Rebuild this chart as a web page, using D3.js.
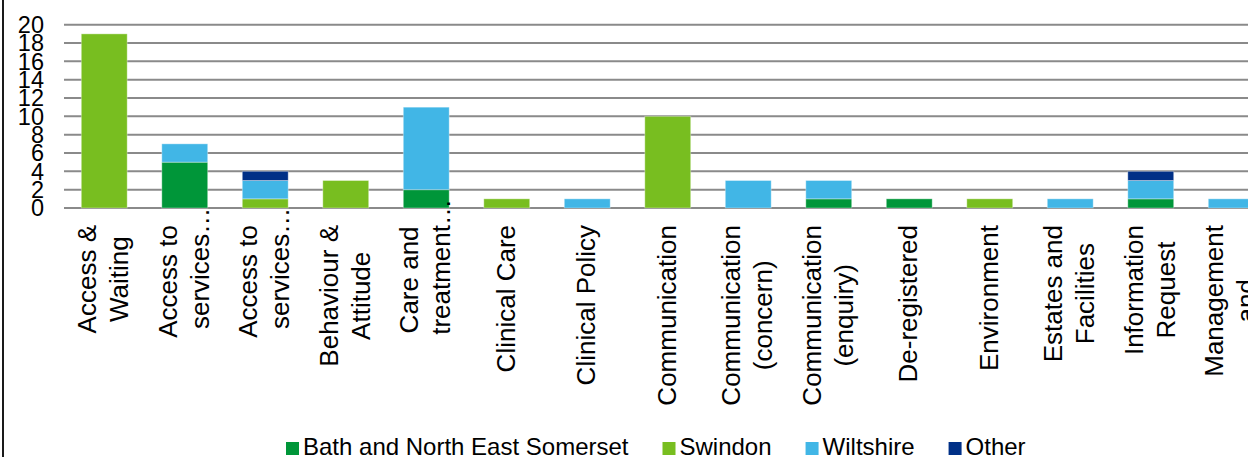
<!DOCTYPE html>
<html>
<head>
<meta charset="utf-8">
<script src="https://cdn.jsdelivr.net/npm/d3@7"></script>
<style>
  body { margin: 0; background: #fff; }
  text { font-family: "Liberation Sans", Arial, sans-serif; fill: #000; }
</style>
</head>
<body>
<script>
// category labels, one entry per line ("…" marks a truncated line)
var categories = [
  ["Access &", "Waiting"],
  ["Access to", "services…"],
  ["Access to", "services…"],
  ["Behaviour &", "Attitude"],
  ["Care and", "treatment…"],
  ["Clinical Care"],
  ["Clinical Policy"],
  ["Communication"],
  ["Communication", "(concern)"],
  ["Communication", "(enquiry)"],
  ["De-registered"],
  ["Environment"],
  ["Estates and", "Facilities"],
  ["Information", "Request"],
  ["Management", "and"]
];
var bath      = [0, 5, 0, 0, 2, 0, 0, 0, 0, 1, 1, 0, 0, 1, 0];
var swindon   = [19, 0, 1, 3, 0, 1, 0, 10, 0, 0, 0, 1, 0, 0, 0];
var wiltshire = [0, 2, 2, 0, 9, 0, 1, 0, 3, 2, 0, 0, 1, 2, 1];
var other     = [0, 0, 1, 0, 0, 0, 0, 0, 0, 0, 0, 0, 0, 1, 0];
var yTicks = [0, 2, 4, 6, 8, 10, 12, 14, 16, 18, 20];

var seriesNames = ["Bath and North East Somerset", "Swindon", "Wiltshire", "Other"];
var seriesKeys = ["bath", "swindon", "wiltshire", "other"];
var colors = ["#009639", "#78BE20", "#41B6E6", "#003087"];

var W = 1248, H = 457;
var plotLeft = 64, plotTop = 24.7, plotBottom = 208;
var step = 80.5;

var rows = categories.map(function (c, i) {
  return { idx: i, bath: bath[i], swindon: swindon[i], wiltshire: wiltshire[i], other: other[i] };
});

var svg = d3.select("body").append("svg")
  .attr("width", W)
  .attr("height", H);

// frame edge on the left
svg.append("line")
  .attr("x1", 3).attr("x2", 3)
  .attr("y1", 0).attr("y2", H)
  .attr("stroke", "#1a1a1a")
  .attr("stroke-width", 2);

var x = d3.scaleBand()
  .domain(d3.range(categories.length))
  .range([plotLeft, plotLeft + step * categories.length])
  .paddingInner(0.43)
  .paddingOuter(0.215);

var y = d3.scaleLinear().domain([0, 20]).range([plotBottom, plotTop]);

// gridlines
svg.append("g")
  .selectAll("line")
  .data(yTicks)
  .enter()
  .append("line")
  .attr("x1", plotLeft)
  .attr("x2", W)
  .attr("y1", function (d) { return y(d); })
  .attr("y2", function (d) { return y(d); })
  .attr("stroke", "#8a8a8a")
  .attr("stroke-width", 2);

// tick labels
svg.append("g")
  .selectAll("text")
  .data(yTicks)
  .enter()
  .append("text")
  .attr("x", 44)
  .attr("y", function (d) { return y(d); })
  .attr("dy", "0.35em")
  .attr("text-anchor", "end")
  .style("font-size", "23.5px")
  .text(function (d) { return d; });

// stacked bars
var stacked = d3.stack().keys(seriesKeys)(rows);

svg.append("g")
  .selectAll("g")
  .data(stacked)
  .enter()
  .append("g")
  .attr("fill", function (d, i) { return colors[i]; })
  .selectAll("rect")
  .data(function (d) { return d.filter(function (p) { return p[1] - p[0] > 0; }); })
  .enter()
  .append("rect")
  .attr("x", function (d) { return x(d.data.idx); })
  .attr("width", x.bandwidth())
  .attr("y", function (d) { return y(d[1]); })
  .attr("height", function (d) { return y(d[0]) - y(d[1]); })
  .attr("stroke", "rgba(255,255,255,0.35)")
  .attr("stroke-width", 1);

// category labels, rotated, lines centred on each other, block top at y=225
var labelTop = 225, fs = 26, lineGap = 32;
var labels = svg.append("g");
categories.forEach(function (lines, i) {
  var cx = x(i) + x.bandwidth() / 2;
  var g = labels.append("g");
  var n = lines.length;
  var texts = lines.map(function (l, j) {
    var hasEll = l.slice(-1) === "…";
    var t = g.append("text")
      .attr("text-anchor", "middle")
      .attr("x", 0)
      .attr("y", 8 - (n - 1) * lineGap / 2 + j * lineGap)
      .style("font-size", fs + "px")
      .text(hasEll ? l.slice(0, -1) : l);
    return { t: t, ell: hasEll, len: t.node().getComputedTextLength(), y: +t.attr("y") };
  });
  var maxLen = d3.max(texts, function (d) { return d.len; });
  g.attr("transform", "translate(" + cx + "," + (labelTop + maxLen / 2) + ") rotate(-90)");
  texts.forEach(function (d) {
    if (d.ell) {
      g.append("text")
        .attr("x", d.len / 2)
        .attr("y", d.y)
        .attr("text-anchor", "start")
        .style("font-size", fs + "px")
        .text("…");
    }
  });
});

// legend
var legend = svg.append("g");
var lx = 286;
seriesNames.forEach(function (name, i) {
  legend.append("rect")
    .attr("x", lx)
    .attr("y", 442)
    .attr("width", 13)
    .attr("height", 13)
    .attr("fill", colors[i]);
  var t = legend.append("text")
    .attr("x", lx + 17)
    .attr("y", 455)
    .style("font-size", "24px")
    .text(name);
  lx += 17 + t.node().getComputedTextLength() + 34;
});
</script>
</body>
</html>
